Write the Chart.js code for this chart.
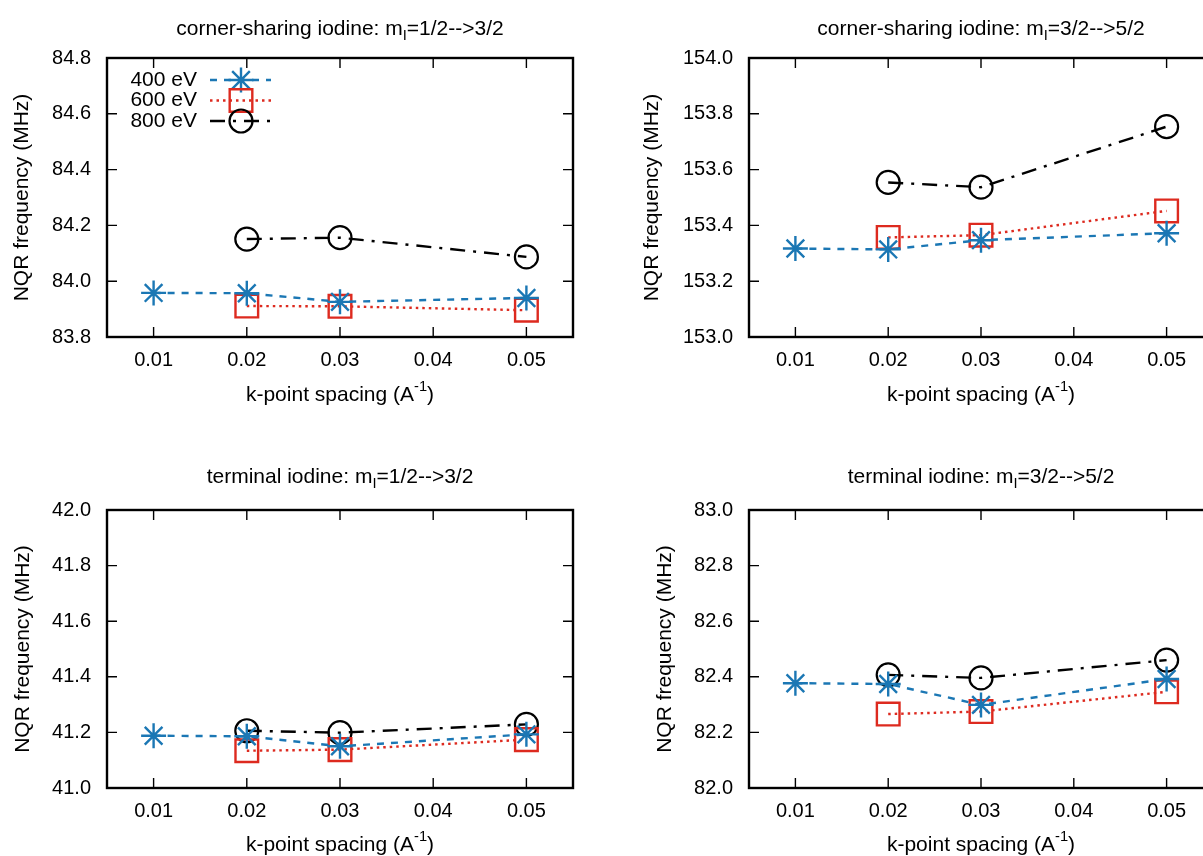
<!DOCTYPE html>
<html>
<head>
<meta charset="utf-8">
<script src="https://cdn.jsdelivr.net/npm/chart.js@4/dist/chart.umd.min.js"></script>
<style>
  html, body { margin: 0; padding: 0; background: #fff; overflow: hidden; }
  body { position: relative; width: 1203px; height: 856px; }
  canvas { position: absolute; }
</style>
</head>
<body>
<canvas id="c1" width="600" height="425" style="left:0;top:0"></canvas>
<canvas id="c2" width="640" height="425" style="left:600px;top:0"></canvas>
<canvas id="c3" width="600" height="431" style="left:0;top:425px"></canvas>
<canvas id="c4" width="640" height="431" style="left:600px;top:425px"></canvas>
<script>
const FONT = "'Liberation Sans', Arial, Helvetica, sans-serif";
const TICK_SIZE = 20;
const TEXT_SIZE = 21;

// k-point spacings (A^-1)
const kAll = [0.01, 0.02, 0.03, 0.05];   // 400 eV
const kHigh = [0.02, 0.03, 0.05];        // 600 / 800 eV
const xTicks = [0.01, 0.02, 0.03, 0.04, 0.05];
const seriesNames = ['400 eV', '600 eV', '800 eV'];

// corner-sharing iodine, 1/2 -> 3/2
const cs12_400 = [83.958, 83.957, 83.926, 83.940];
const cs12_600 = [83.911, 83.910, 83.896];
const cs12_800 = [84.151, 84.156, 84.087];
// corner-sharing iodine, 3/2 -> 5/2
const cs32_400 = [153.317, 153.314, 153.347, 153.372];
const cs32_600 = [153.357, 153.365, 153.452];
const cs32_800 = [153.554, 153.537, 153.754];
// terminal iodine, 1/2 -> 3/2
const t12_400 = [41.188, 41.186, 41.150, 41.193];
const t12_600 = [41.134, 41.138, 41.174];
const t12_800 = [41.206, 41.199, 41.229];
// terminal iodine, 3/2 -> 5/2
const t32_400 = [82.377, 82.374, 82.299, 82.392];
const t32_600 = [82.266, 82.275, 82.346];
const t32_800 = [82.407, 82.396, 82.460];

// y ranges
const cs12_range = [83.8, 84.8];
const cs32_range = [153.0, 154.0];
const t12_range = [41.0, 42.0];
const t32_range = [82.0, 83.0];

const styles = [
  { color: '#1b77b4', dash: [7, 7], point: 'star', radius: 12.5, pw: 2.4 },
  { color: '#dd2a1f', dash: [2.5, 4], point: 'rect', radius: 16, pw: 2.4 },
  { color: '#000000', dash: [15, 8, 3, 8], point: 'circle', radius: 11.5, pw: 2.2 }
];

function pts(xs, ys) {
  return xs.map((x, i) => ({ x: x, y: ys[i] }));
}

// text with sub/superscript parts: [text, 0 normal | 1 sub | -1 sup]
function richText(ctx, parts, cx, cy, size) {
  let total = 0;
  const widths = parts.map(([t, m]) => {
    ctx.font = (m ? size * 0.7 : size) + 'px ' + FONT;
    const w = ctx.measureText(t).width;
    total += w;
    return w;
  });
  let x = cx - total / 2;
  ctx.textAlign = 'left';
  ctx.textBaseline = 'alphabetic';
  parts.forEach(([t, m], i) => {
    ctx.font = (m ? size * 0.7 : size) + 'px ' + FONT;
    const dy = m === 1 ? size * 0.25 : (m === -1 ? -size * 0.45 : 0);
    ctx.fillText(t, x, cy + size * 0.36 + dy);
    x += widths[i];
  });
}

const decor = {
  id: 'decor',
  afterDatasetsDraw(chart, args, opts) {
    const { ctx, chartArea: a, scales: { x, y } } = chart;
    ctx.save();
    ctx.strokeStyle = '#000';
    ctx.lineWidth = 1.4;
    ctx.beginPath();
    x.ticks.forEach(t => {
      const px = x.getPixelForValue(t.value);
      ctx.moveTo(px, a.bottom); ctx.lineTo(px, a.bottom - 10);
      ctx.moveTo(px, a.top); ctx.lineTo(px, a.top + 10);
    });
    y.ticks.forEach(t => {
      const py = y.getPixelForValue(t.value);
      ctx.moveTo(a.left, py); ctx.lineTo(a.left + 10, py);
      ctx.moveTo(a.right, py); ctx.lineTo(a.right - 10, py);
    });
    ctx.stroke();
    ctx.lineWidth = 2.4;
    ctx.strokeRect(a.left, a.top, a.right - a.left, a.bottom - a.top);

    ctx.fillStyle = '#000';
    const cx = (a.left + a.right) / 2;
    richText(ctx, opts.title, cx, opts.titleY, TEXT_SIZE);
    richText(ctx, [['k-point spacing (A', 0], ['-1', -1], [')', 0]], cx, opts.xTitleY, TEXT_SIZE);

    if (opts.legend) {
      chart.data.datasets.forEach((ds, i) => {
        const ly = 80 + i * 20.5;
        ctx.font = TEXT_SIZE + 'px ' + FONT;
        ctx.textAlign = 'right';
        ctx.textBaseline = 'middle';
        ctx.fillStyle = '#000';
        ctx.fillText(ds.label, 197, ly);
        ctx.strokeStyle = ds.borderColor;
        ctx.lineWidth = ds.borderWidth;
        ctx.setLineDash(ds.borderDash);
        ctx.beginPath();
        ctx.moveTo(210, ly); ctx.lineTo(271, ly);
        ctx.stroke();
        ctx.setLineDash([]);
        ctx.lineWidth = ds.pointBorderWidth;
        ctx.fillStyle = 'rgba(0,0,0,0)';
        Chart.helpers.drawPoint(ctx, {
          pointStyle: ds.pointStyle, radius: ds.pointRadius,
          rotation: 0, borderWidth: ds.pointBorderWidth
        }, 241, ly);
      });
    }
    ctx.restore();
  }
};

function makeChart(id, geo, range, series, title, legend) {
  const canvas = document.getElementById(id);
  const W = canvas.width, H = canvas.height;
  const xs = [kAll, kHigh, kHigh];
  const datasets = series.map((vals, i) => ({
    label: seriesNames[i],
    data: pts(xs[i], vals),
    showLine: true,
    borderColor: styles[i].color,
    backgroundColor: 'rgba(0,0,0,0)',
    borderWidth: 2.4,
    borderDash: styles[i].dash,
    pointStyle: styles[i].point,
    pointRadius: styles[i].radius,
    pointHoverRadius: styles[i].radius,
    pointBorderWidth: styles[i].pw,
    pointBorderColor: styles[i].color,
    pointBackgroundColor: 'rgba(0,0,0,0)',
    tension: 0
  }));
  return new Chart(canvas, {
    type: 'scatter',
    data: { datasets },
    plugins: [decor],
    options: {
      responsive: false,
      animation: false,
      events: [],
      layout: { padding: { left: 0, top: geo.top, right: W - geo.right, bottom: 0 } },
      plugins: {
        legend: { display: false },
        tooltip: { enabled: false },
        decor: { title, legend, titleY: geo.titleY, xTitleY: geo.xTitleY }
      },
      scales: {
        x: {
          type: 'linear',
          min: 0.005,
          max: 0.055,
          grid: { display: false },
          border: { display: false },
          afterBuildTicks: s => { s.ticks = xTicks.map(v => ({ value: v })); },
          ticks: {
            color: '#000', font: { family: FONT, size: TICK_SIZE }, padding: 3,
            maxRotation: 0, autoSkip: false,
            callback: v => v.toFixed(2)
          },
          afterFit: s => { s.height = H - geo.bottom; }
        },
        y: {
          min: range[0],
          max: range[1],
          grid: { display: false },
          border: { display: false },
          ticks: {
            stepSize: 0.2, color: '#000', font: { family: FONT, size: TICK_SIZE }, padding: 8,
            callback: v => v.toFixed(1)
          },
          title: {
            display: true, text: 'NQR frequency (MHz)', color: '#000',
            font: { family: FONT, size: TEXT_SIZE },
            padding: { top: geo.yTitleX - TEXT_SIZE * 0.6, bottom: 0 }
          },
          afterFit: s => { s.width = geo.left; }
        }
      }
    }
  });
}

const topGeo = { top: 58, bottom: 337, titleY: 27, xTitleY: 393 };
const botGeo = { top: 85, bottom: 363, titleY: 50, xTitleY: 418 };

makeChart('c1', Object.assign({ left: 107, right: 573, yTitleX: 22 }, topGeo), cs12_range,
  [cs12_400, cs12_600, cs12_800],
  [['corner-sharing iodine: m', 0], ['I', 1], ['=1/2-->3/2', 0]], true);
makeChart('c2', Object.assign({ left: 149, right: 613, yTitleX: 52 }, topGeo), cs32_range,
  [cs32_400, cs32_600, cs32_800],
  [['corner-sharing iodine: m', 0], ['I', 1], ['=3/2-->5/2', 0]], false);
makeChart('c3', Object.assign({ left: 107, right: 573, yTitleX: 23 }, botGeo), t12_range,
  [t12_400, t12_600, t12_800],
  [['terminal iodine: m', 0], ['I', 1], ['=1/2-->3/2', 0]], false);
makeChart('c4', Object.assign({ left: 149, right: 613, yTitleX: 65 }, botGeo), t32_range,
  [t32_400, t32_600, t32_800],
  [['terminal iodine: m', 0], ['I', 1], ['=3/2-->5/2', 0]], false);
</script>
</body>
</html>
